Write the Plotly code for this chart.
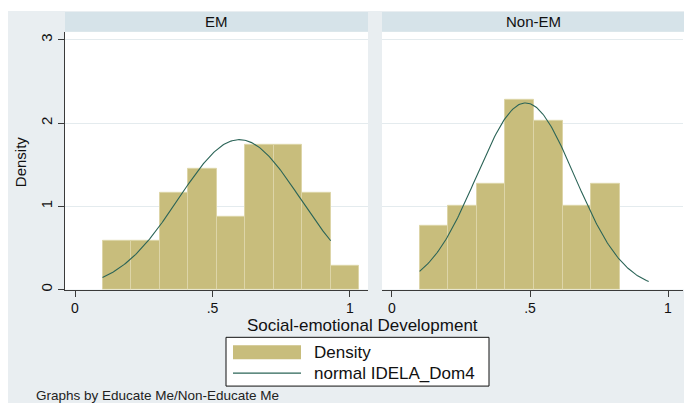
import numpy as np
import plotly.graph_objects as go

W, H = 684, 405

# Histogram bins shared by both groups
bin_start = 0.1
bin_width = 0.1037

# Density per bin
em_density = [0.58, 0.58, 1.16, 1.45, 0.87, 1.74, 1.74, 1.16, 0.29]
nonem_density = [0.76, 1.01, 1.27, 2.28, 2.03, 1.01, 1.27]

# Fitted normal density parameters
em_mean, em_sd = 0.598, 0.2216
nonem_mean, nonem_sd = 0.484, 0.178
curve_min, curve_max = 0.10, 0.93

panel_titles = ["EM", "Non-EM"]
x_tickvals = [0, 0.5, 1]
x_ticktext = ["0", ".5", "1"]
y_tickvals = [0, 1, 2, 3]
y_ticktext = ["0", "1", "2", "3"]

BAR = "#C8BD7C"
BAR_EDGE = "#DDD5A8"
LINE = "#2B6457"
BG = "#E9EEF1"
STRIP = "#D6E3E9"
GRID = "#E4EBEE"
AXIS = "#3A3A3A"
FONT = "Liberation Sans, Arial, sans-serif"


def px(x):
    return x / W


def py(y):
    return 1 - y / H


def normal_pdf(x, m, s):
    return np.exp(-0.5 * ((x - m) / s) ** 2) / (s * np.sqrt(2 * np.pi))


fig = go.Figure()

groups = [(em_density, em_mean, em_sd, "x", "y"),
          (nonem_density, nonem_mean, nonem_sd, "x2", "y2")]
for dens, m, s, xa, ya in groups:
    centers = [bin_start + bin_width * (i + 0.5) for i in range(len(dens))]
    fig.add_trace(go.Bar(
        x=centers, y=dens, width=bin_width,
        marker=dict(color=BAR, line=dict(color=BAR_EDGE, width=1)),
        xaxis=xa, yaxis=ya, showlegend=False, hoverinfo="skip"))
    xs = np.linspace(curve_min, curve_max, 200)
    fig.add_trace(go.Scatter(
        x=xs, y=normal_pdf(xs, m, s), mode="lines",
        line=dict(color=LINE, width=1.1),
        xaxis=xa, yaxis=ya, showlegend=False, hoverinfo="skip"))

ydom = [py(291), py(32)]
common_x = dict(
    showline=True, linecolor=AXIS, linewidth=1, ticks="outside",
    ticklen=6, tickcolor=AXIS, tickvals=x_tickvals, ticktext=x_ticktext,
    showgrid=False, zeroline=False,
    tickfont=dict(family=FONT, size=14, color="#111"))

fig.update_layout(
    width=W, height=H, margin=dict(l=0, r=0, t=0, b=0),
    paper_bgcolor="white", plot_bgcolor="white", bargap=0,
    xaxis=dict(domain=[px(65), px(368)], range=[-0.0364, 1.0655],
               anchor="y", **common_x),
    xaxis2=dict(domain=[px(382), px(683)], range=[-0.0362, 1.0543],
                anchor="y2", **common_x),
    yaxis=dict(domain=ydom, range=[0, 3.095], anchor="x",
               showline=True, linecolor=AXIS, linewidth=1,
               ticks="outside", ticklen=6, tickcolor=AXIS,
               tickvals=y_tickvals, ticktext=y_ticktext, tickangle=-90,
               showgrid=True, gridcolor=GRID, gridwidth=1, zeroline=False,
               tickfont=dict(family=FONT, size=15, color="#111")),
    yaxis2=dict(domain=ydom, range=[0, 3.095], anchor="x2",
                showline=False, ticks="", showticklabels=False,
                tickvals=y_tickvals,
                showgrid=True, gridcolor=GRID, gridwidth=1, zeroline=False),
)

shapes = []
# outer graph region
shapes.append(dict(type="rect", xref="paper", yref="paper", layer="below",
                   x0=px(8), x1=1, y0=0, y1=py(11),
                   fillcolor=BG, line=dict(width=0)))
# plot regions and title strips
for x0, x1 in [(65, 368), (382, 684)]:
    shapes.append(dict(type="rect", xref="paper", yref="paper", layer="below",
                       x0=px(x0), x1=px(x1), y0=py(291), y1=py(32),
                       fillcolor="white", line=dict(width=0)))
    shapes.append(dict(type="rect", xref="paper", yref="paper", layer="below",
                       x0=px(x0), x1=px(x1), y0=py(32), y1=py(12),
                       fillcolor=STRIP, line=dict(width=0)))

# legend box
shapes.append(dict(type="rect", xref="paper", yref="paper",
                   x0=px(226), x1=px(489), y0=py(388), y1=py(339),
                   fillcolor="white", line=dict(color="#111", width=1)))
shapes.append(dict(type="rect", xref="paper", yref="paper",
                   x0=px(233), x1=px(301), y0=py(361), y1=py(347),
                   fillcolor=BAR, line=dict(width=0)))
shapes.append(dict(type="line", xref="paper", yref="paper",
                   x0=px(233), x1=px(301), y0=py(375), y1=py(375),
                   line=dict(color=LINE, width=1.3)))

annotations = []
for title, (x0, x1) in zip(panel_titles, [(65, 368), (382, 684)]):
    annotations.append(dict(text=title, xref="paper", yref="paper",
                            x=px((x0 + x1) / 2), y=py(22), showarrow=False,
                            xanchor="center", yanchor="middle",
                            font=dict(family=FONT, size=15, color="#111")))
annotations += [
    dict(text="Density", xref="paper", yref="paper", x=px(20), y=py(163),
         textangle=-90, showarrow=False, xanchor="center", yanchor="middle",
         font=dict(family=FONT, size=15, color="#111")),
    dict(text="Social-emotional Development", xref="paper", yref="paper",
         x=px(362), y=py(327), showarrow=False, xanchor="center",
         yanchor="middle", font=dict(family=FONT, size=17, color="#111")),
    dict(text="Density", xref="paper", yref="paper", x=px(312), y=py(354),
         showarrow=False, xanchor="left", yanchor="middle",
         font=dict(family=FONT, size=17, color="#111")),
    dict(text="normal IDELA_Dom4", xref="paper", yref="paper", x=px(312),
         y=py(375), showarrow=False, xanchor="left", yanchor="middle",
         font=dict(family=FONT, size=17, color="#111")),
    dict(text="Graphs by Educate Me/Non-Educate Me", xref="paper",
         yref="paper", x=px(34), y=py(397), showarrow=False,
         xanchor="left", yanchor="middle",
         font=dict(family=FONT, size=13.5, color="#222")),
]

fig.update_layout(shapes=shapes, annotations=annotations)
fig.write_html("out.html")
